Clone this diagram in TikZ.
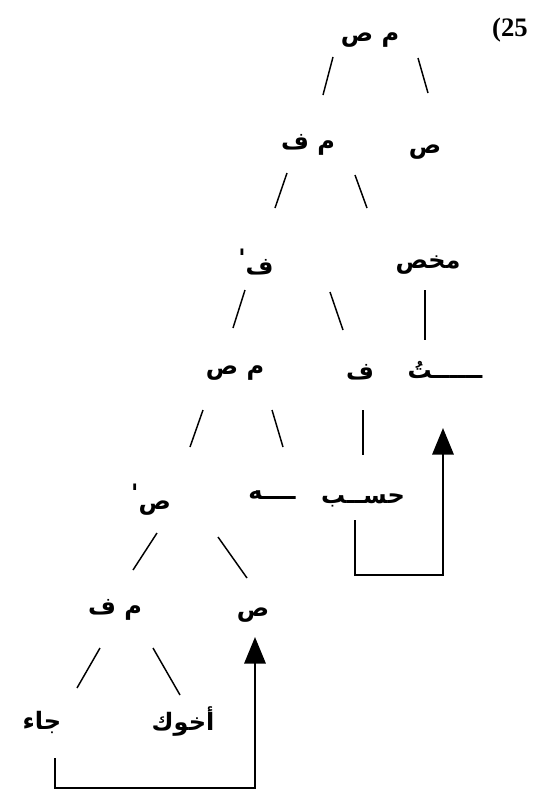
\documentclass[tikz,border=0pt]{standalone}
\usepackage{fontspec}
\setmainfont{Liberation Serif}
\newfontfamily\arabicfont[Script=Arabic]{DejaVu Sans}
\TeXXeTstate=1
\usetikzlibrary{calc,arrows.meta}
\tikzset{
  lbl/.style={inner sep=0pt, font=\arabicfont\bfseries\fontsize{18}{21}\selectfont},
  edge/.style={line width=1.1pt},
  back/.style={line width=1.8pt, -{Triangle[width=16pt,length=20pt]}},
}
\newcommand{\ar}[1]{\beginR #1\endR}
\newcommand{\prm}{\raisebox{0.6ex}{'}}
\begin{document}
\begin{tikzpicture}[x=0.75pt,y=-0.75pt]
\useasboundingbox (0,0) rectangle (536,796);
% nodes
\node[lbl] (ms1) at (370,40) {\ar{م ص}};
\node[inner sep=0pt, font=\bfseries\fontsize{20}{24}\selectfont] (n25) at (510,30) {(25};
\node[lbl] (mf1) at (308,145) {\ar{م ف}};
\node[lbl] (s1) at (425,152) {\ar{ص}};
\node[lbl] (f1) at (256,262) {\ar{ف\prm}};
\node[lbl] (mkh) at (428,265) {\ar{مخص}};
\node[lbl] (ms2) at (235,373) {\ar{م ص}};
\node[lbl] (f2) at (360,372) {\ar{ف}};
\node[lbl] (tu) at (445,370) {\ar{ــــــتُ}};
\node[lbl] (sb) at (151,500) {\ar{ص\prm}};
\node[lbl] (h) at (272,495) {\ar{ــــه}};
\node[lbl] (hsb) at (363,500) {\ar{حســب}};
\node[lbl] (mf2) at (115,610) {\ar{م ف}};
\node[lbl] (s2) at (253,615) {\ar{ص}};
\node[lbl] (jaa) at (42,722) {\ar{جاء}};
\node[lbl] (akh) at (183,722) {\ar{أخوك}};
% edges
\draw[edge] ($(ms1)+(-37,17)$) -- ($(mf1)+(15,-50)$);
\draw[edge] ($(ms1)+(48,18)$) -- ($(s1)+(3,-59)$);
\draw[edge] ($(mf1)+(-21,28)$) -- ($(f1)+(19,-54)$);
\draw[edge] ($(mf1)+(47,30)$) -- ($(mkh)+(-61,-57)$);
\draw[edge] ($(f1)+(-11,28)$) -- ($(ms2)+(-2,-45)$);
\draw[edge] ($(f1)+(74,30)$) -- ($(f2)+(-17,-42)$);
\draw[edge] ($(mkh)+(-3,25)$) -- ($(tu)+(-20,-30)$);
\draw[edge] ($(ms2)+(-32,37)$) -- ($(sb)+(39,-53)$);
\draw[edge] ($(ms2)+(37,37)$) -- ($(h)+(11,-48)$);
\draw[edge] ($(f2)+(3,38)$) -- ($(hsb)+(0,-45)$);
\draw[edge] ($(sb)+(6,33)$) -- ($(mf2)+(18,-40)$);
\draw[edge] ($(sb)+(67,37)$) -- ($(s2)+(-6,-37)$);
\draw[edge] ($(mf2)+(-15,38)$) -- ($(jaa)+(35,-34)$);
\draw[edge] ($(mf2)+(38,38)$) -- ($(akh)+(-3,-27)$);
% back arrows
\draw[back] ($(hsb)+(-8,20)$) -- ($(hsb)+(-8,75)$) -| ($(tu)+(-2,58)$);
\draw[back] ($(jaa)+(13,36)$) -- ($(jaa)+(13,66)$) -| ($(s2)+(2,22)$);
\end{tikzpicture}
\end{document}
